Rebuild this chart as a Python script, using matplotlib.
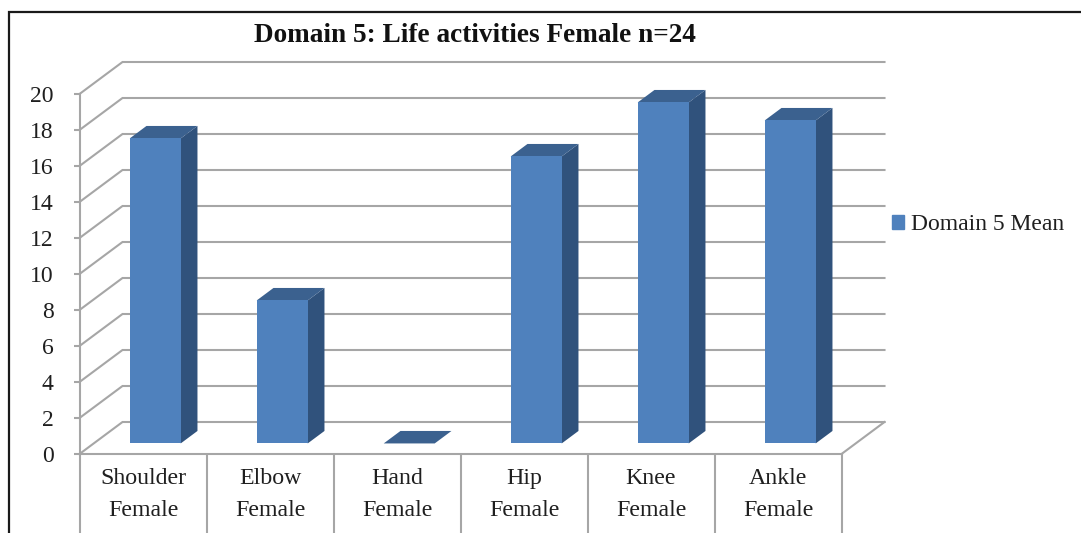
#!/usr/bin/python3

import matplotlib
matplotlib.use("Agg")
import matplotlib.pyplot as plt
from matplotlib.lines import Line2D
from matplotlib.patches import Patch

plt.rcParams['font.family'] = ['Liberation Serif', 'DejaVu Serif']

categories = ["Shoulder\nFemale", "Elbow\nFemale", "Hand\nFemale",
	"Hip\nFemale", "Knee\nFemale", "Ankle\nFemale"]
values = [17, 8, 0, 16, 19, 18]
y_ticks = list(range(0, 21, 2))
series_name = "Domain 5 Mean"
title = "Domain 5: Life activities Female n=24"

W, H = 1081, 533
# plot front plane, in pixels from top left
left, right, top, bottom = 79.5, 841.5, 94.0, 454.0

grid_col = "#a6a6a6"
front_col = "#4f81bd"
side_col = "#30527c"
top_col = "#3b618f"

fig = plt.figure(figsize=(W / 100, H / 100), dpi=100)
ax = fig.add_axes([left / W, 1 - bottom / H, (right - left) / W, (bottom - top) / H])
ax.set_xlim(0, len(categories))
ax.set_ylim(0, 20)

# one unit of depth, in data units
px_x = len(categories) / (right - left)
px_y = 20 / (bottom - top)
dep_x = 43 * px_x
dep_y = 32 * px_y

# wall and floor lines
for y in y_ticks:
	ax.plot([0, dep_x, len(categories) + dep_x], [y, y + dep_y, y + dep_y],
		color=grid_col, lw=1.5, clip_on=False, zorder=1, solid_joinstyle='miter')
ax.plot([len(categories), len(categories) + dep_x], [0, dep_y],
	color=grid_col, lw=1.5, clip_on=False, zorder=1)

# bars sit between 0.3 and 0.7 of the depth
bar_w = 51 * px_x
d0 = 0.33
d1 = 0.72
for i, v in enumerate(values):
	x0 = i + 0.5 - bar_w / 2 + 12.2 * px_x
	x1 = x0 + bar_w
	y0 = d0 * dep_y
	ox = (d1 - d0) * dep_x
	oy = (d1 - d0) * dep_y
	if v > 0:
		ax.bar(x0 + bar_w / 2, v - 1 * px_y, bar_w, bottom=y0, color=front_col,
			zorder=3, clip_on=False)
		ax.fill([x1, x1 + ox, x1 + ox, x1], [y0, y0 + oy, y0 + v - px_y + oy, y0 + v - px_y],
			color=side_col, lw=0, zorder=2, clip_on=False)
	t = y0 + max(v - px_y, 0)
	ax.fill([x0, x1, x1 + ox, x0 + ox], [t, t, t + oy, t + oy],
		color=top_col, lw=0, zorder=2, clip_on=False)

for s in ["top", "right"]:
	ax.spines[s].set_visible(False)
for s in ["left", "bottom"]:
	ax.spines[s].set_color(grid_col)
	ax.spines[s].set_linewidth(1.5)

ax.set_yticks(y_ticks)
ax.tick_params(axis='y', length=4.5, width=1.5, color=grid_col, pad=14,
	labelsize=17, labelcolor="#1f1f1f")
ax.set_xticks(range(len(categories) + 1))
ax.set_xticklabels([])
ax.tick_params(axis='x', which='major', length=60, width=1.5, color=grid_col)
ax.set_xticks([i + 0.5 for i in range(len(categories))], minor=True)
ax.set_xticklabels(categories, minor=True, fontsize=17.2, color="#1f1f1f", linespacing=1.7)
ax.tick_params(axis='x', which='minor', length=0, pad=10)

fig.text(475 / W, 1 - 36 / H, title, ha='center', va='center',
	fontsize=19.6, fontweight='bold', color="#111111")

ax.legend(handles=[Patch(color=front_col, label=series_name)],
	loc='center left', bbox_to_anchor=(892 / W, 1 - 225 / H),
	bbox_transform=fig.transFigure, frameon=False, fontsize=17,
	handlelength=0.5, handleheight=0.5, handletextpad=0.3,
	borderpad=0, borderaxespad=0, labelcolor="#1f1f1f")

# outer frame, cut off at the right and bottom of the picture
fig.add_artist(Line2D([8.5 / W, 8.5 / W, 1], [0, 1 - 11.5 / H, 1 - 11.5 / H],
	transform=fig.transFigure, color="#1a1a1a", lw=1.6, solid_joinstyle='miter'))

fig.savefig("out.png", dpi=100)
